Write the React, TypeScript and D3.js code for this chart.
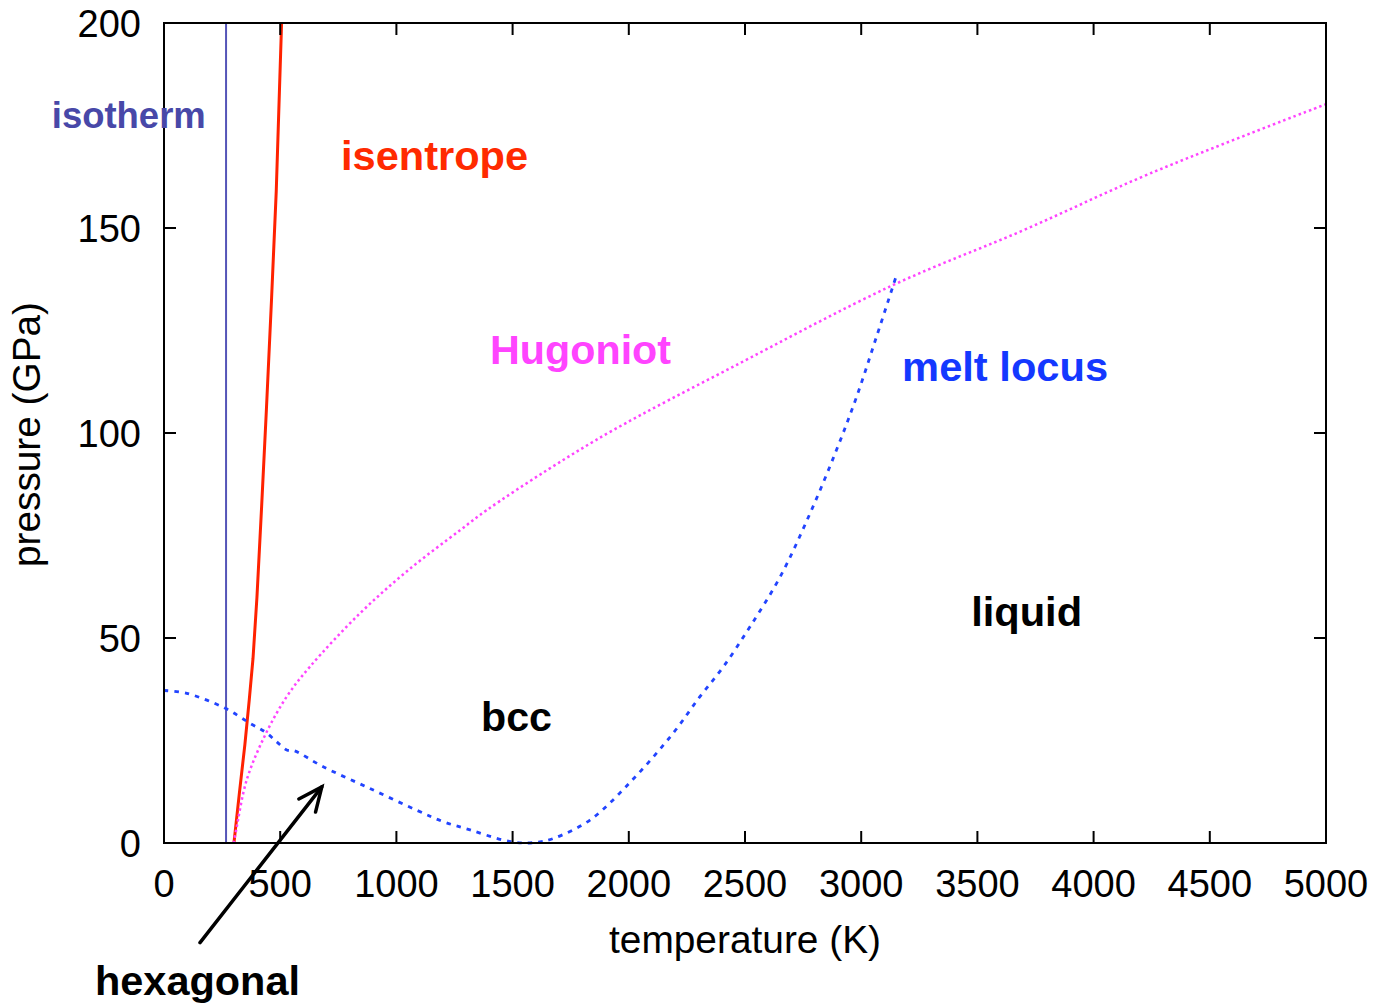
import * as d3 from "d3";

const W = 1373;
const H = 1004;
const margin = { top: 23, right: 47, bottom: 161, left: 164 };

// axes
const tempTicks = [0, 500, 1000, 1500, 2000, 2500, 3000, 3500, 4000, 4500, 5000];
const pressureTicks = [0, 50, 100, 150, 200];

// isotherm temperature (K)
const isothermT = 267;

// isentrope: [T (K), P (GPa)]
const isentrope: [number, number][] = [
  [301, 0], [324, 12], [348, 24], [367, 35], [383, 45], [400, 60],
  [420, 82], [440, 105], [463, 133], [483, 159], [497, 184], [506, 200],
];

// Hugoniot: [T (K), P (GPa)]
const hugoniot: [number, number][] = [
  [300, 0], [310, 3], [356, 15.4], [435, 26.3], [528, 35.7], [628, 43],
  [843, 56], [1050, 66.5], [1274, 76.3], [1389, 81.2], [1650, 91], [1933, 100.7],
  [2450, 116.2], [3138, 136.1], [3700, 149.5], [4243, 163.3], [5000, 180.2],
];

// hcp-bcc boundary + melt locus: [T (K), P (GPa)]
const meltLocus: [number, number][] = [
  [0, 37.2], [98, 36.5], [262, 32.9], [370, 29.2], [435, 27.1], [485, 24.7],
  [528, 22.7], [560, 22.5], [685, 18.6], [886, 13.3], [1087, 8.0], [1202, 5.2],
  [1317, 3.2], [1460, 0.7], [1545, 0], [1618, 0.3], [1675, 1.1], [1833, 5.6],
  [2019, 15.6], [2191, 26.8], [2306, 35.7], [2407, 43.0], [2522, 52.8],
  [2651, 64.9], [2780, 80.4], [2894, 95.9], [2980, 108.8], [3066, 123.5], [3152, 138.5],
];

// labels: text, T, P (baseline start), colour, font size, width
const labels: { text: string; t: number; p: number; color: string; size: number; len: number }[] = [
  { text: "isotherm", t: -483, p: 174.5, color: "#4848a8", size: 37, len: 154 },
  { text: "isentrope", t: 762, p: 164.1, color: "#ff2a00", size: 41, len: 187 },
  { text: "Hugoniot", t: 1403, p: 116.8, color: "#ff44ff", size: 41, len: 181 },
  { text: "melt locus", t: 3176, p: 112.7, color: "#1438ff", size: 41, len: 206 },
  { text: "liquid", t: 3473, p: 52.9, color: "#000000", size: 41, len: 111 },
  { text: "bcc", t: 1364, p: 27.3, color: "#000000", size: 41, len: 71 },
  { text: "hexagonal", t: -297, p: -37.1, color: "#000000", size: 41, len: 205 },
];

// arrow pointing at hexagonal region: tail and tip in [T, P]
const arrowTail: [number, number] = [155, -24.3];
const arrowTip: [number, number] = [679, 13.7];

const FONT = "'Liberation Sans', Arial, Helvetica, sans-serif";

export default function App() {
  const x = d3.scaleLinear().domain([0, 5000]).range([margin.left, W - margin.right]);
  const y = d3.scaleLinear().domain([0, 200]).range([H - margin.bottom, margin.top]);
  const x0 = x.range()[0];
  const x1 = x.range()[1];
  const y0 = y.range()[0];
  const y1 = y.range()[1];

  const line = d3
    .line<[number, number]>()
    .x((d) => x(d[0]))
    .y((d) => y(d[1]));
  const smooth = d3
    .line<[number, number]>()
    .x((d) => x(d[0]))
    .y((d) => y(d[1]))
    .curve(d3.curveCatmullRom.alpha(0.5));

  // arrow head
  const ax = x(arrowTip[0]);
  const ay = y(arrowTip[1]);
  const bx = x(arrowTail[0]);
  const by = y(arrowTail[1]);
  const ang = Math.atan2(ay - by, ax - bx);
  const head = 26;
  const spread = 0.42;
  const h1 = [ax - head * Math.cos(ang - spread), ay - head * Math.sin(ang - spread)];
  const h2 = [ax - head * Math.cos(ang + spread), ay - head * Math.sin(ang + spread)];

  const tickLen = 12;

  return (
    <svg
      width={W}
      height={H}
      style={{ position: "absolute", left: 0, top: 0, background: "#fff" }}
      fontFamily={FONT}
    >
      <rect width={W} height={H} fill="#fff" />

      {/* curves */}
      <line x1={x(isothermT)} x2={x(isothermT)} y1={y(0)} y2={y(200)} stroke="#5555b8" strokeWidth={2} />
      <path d={line(isentrope) ?? ""} fill="none" stroke="#ff2200" strokeWidth={3} />
      <path d={smooth(hugoniot) ?? ""} fill="none" stroke="#ff44ff" strokeWidth={2.5} strokeDasharray="2.5,3" />
      <path d={smooth(meltLocus) ?? ""} fill="none" stroke="#2244ff" strokeWidth={2.8} strokeDasharray="4.5,6" />

      {/* frame and ticks */}
      <rect x={x0} y={y1} width={x1 - x0} height={y0 - y1} fill="none" stroke="#000" strokeWidth={2} />
      {tempTicks.map((t) => (
        <g key={`xt${t}`}>
          <line x1={x(t)} x2={x(t)} y1={y0} y2={y0 - tickLen} stroke="#000" strokeWidth={2} />
          <line x1={x(t)} x2={x(t)} y1={y1} y2={y1 + tickLen} stroke="#000" strokeWidth={2} />
          <text x={x(t)} y={y0 + 54} textAnchor="middle" fontSize={38}>
            {t}
          </text>
        </g>
      ))}
      {pressureTicks.map((p) => (
        <g key={`yt${p}`}>
          <line x1={x0} x2={x0 + tickLen} y1={y(p)} y2={y(p)} stroke="#000" strokeWidth={2} />
          <line x1={x1} x2={x1 - tickLen} y1={y(p)} y2={y(p)} stroke="#000" strokeWidth={2} />
          <text x={x0 - 23} y={y(p) + 13.5} textAnchor="end" fontSize={38}>
            {p}
          </text>
        </g>
      ))}

      {/* axis titles */}
      <text x={(x0 + x1) / 2} y={953} textAnchor="middle" fontSize={38} textLength={272} lengthAdjust="spacingAndGlyphs">
        temperature (K)
      </text>
      <text
        transform={`translate(40,${434.5}) rotate(-90)`}
        textAnchor="middle"
        fontSize={38}
        textLength={265}
        lengthAdjust="spacingAndGlyphs"
      >
        pressure (GPa)
      </text>

      {/* labels */}
      {labels.map((l) => (
        <text
          key={l.text}
          x={x(l.t)}
          y={y(l.p)}
          fill={l.color}
          fontSize={l.size}
          fontWeight="bold"
          textLength={l.len}
          lengthAdjust="spacingAndGlyphs"
        >
          {l.text}
        </text>
      ))}

      {/* arrow */}
      <g stroke="#000" strokeWidth={3.5} fill="none" strokeLinecap="round">
        <line x1={bx} y1={by} x2={ax} y2={ay} />
        <polyline points={`${h1[0]},${h1[1]} ${ax},${ay} ${h2[0]},${h2[1]}`} />
      </g>
    </svg>
  );
}
